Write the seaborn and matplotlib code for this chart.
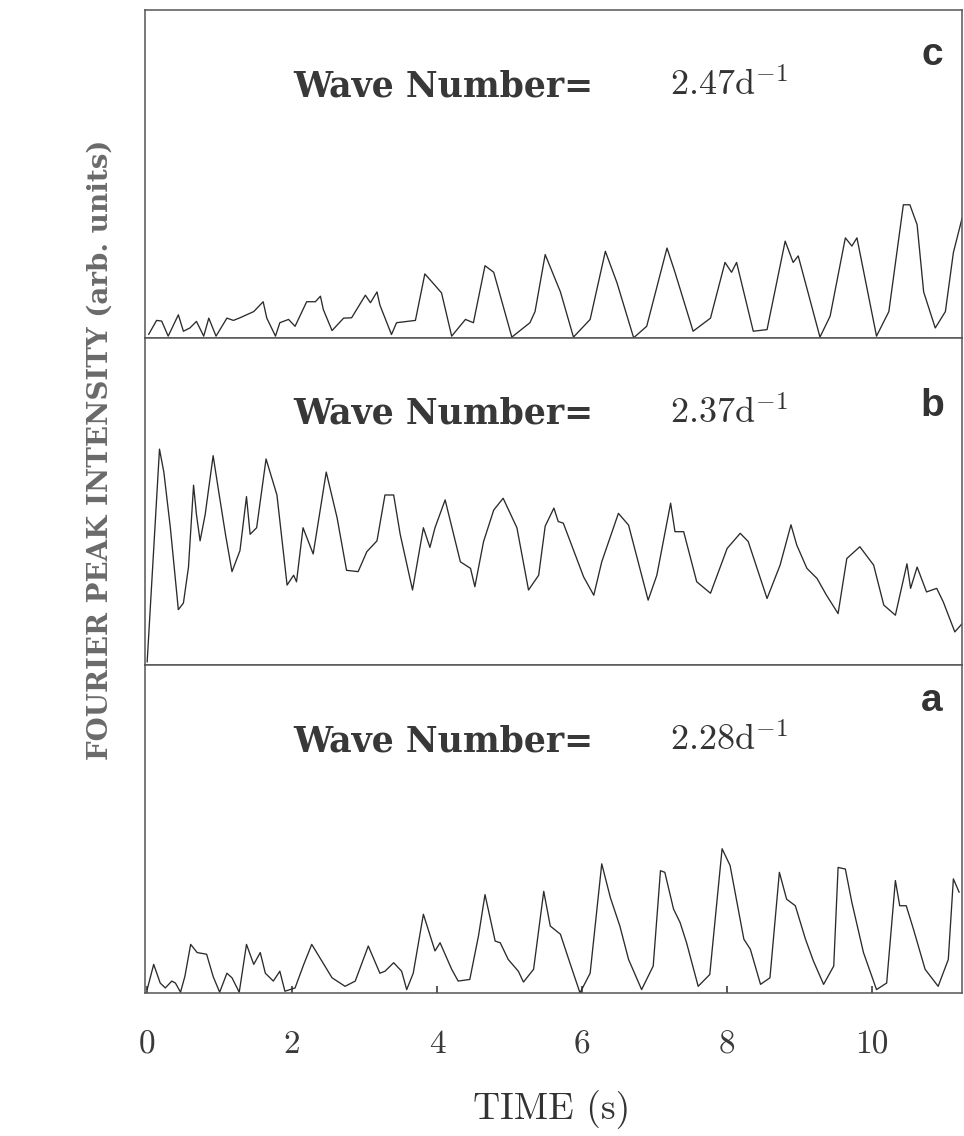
import matplotlib
matplotlib.use("Agg")
import matplotlib.pyplot as plt
import seaborn as sns
import pandas as pd

sns.set_theme(style="white")
plt.rcParams['mathtext.fontset'] = 'cm'
plt.rcParams['axes.unicode_minus'] = False

# time axis (s) and Fourier peak intensity (arb. units, % of panel height)
time_c = [0.02, 0.13, 0.20, 0.29, 0.43, 0.50, 0.59, 0.68, 0.78, 0.85, 0.95, 1.10, 1.19, 1.28,
          1.47, 1.60, 1.65, 1.77, 1.83, 1.95, 2.04, 2.20, 2.32, 2.39, 2.43, 2.55, 2.71, 2.82,
          3.01, 3.08, 3.17, 3.21, 3.37, 3.44, 3.70, 3.83, 3.97, 4.06, 4.20, 4.39, 4.50, 4.66,
          4.78, 5.03, 5.28, 5.35, 5.49, 5.70, 5.88, 6.11, 6.32, 6.48, 6.71, 6.89, 7.17, 7.28,
          7.53, 7.77, 7.97, 8.06, 8.13, 8.36, 8.55, 8.80, 8.91, 8.98, 9.28, 9.42, 9.63, 9.72,
          9.79, 10.06, 10.23, 10.43, 10.52, 10.62, 10.71, 10.87, 11.01, 11.12, 11.24]
peak_c = [1, 5.3, 5.1, 0.5, 7, 2, 3, 5, 0.5, 6, 0.5, 6, 5.3, 6.1,
          8, 11, 6, 0.5, 4.6, 5.6, 3.5, 11, 11, 12.7, 8.6, 2.2, 6, 6.1,
          13, 10.7, 14, 10, 1, 4.6, 5.3, 19.5, 16, 13.7, 0.5, 5.6, 4.6, 22,
          20, 0.2, 4.6, 8, 25.4, 14, 0.2, 5.6, 26.4, 16.8, 0, 3.5, 27.4, 20,
          2, 6, 23, 20, 23, 2, 2.5, 29.5, 23, 25, 0.2, 6.6, 30.5, 28,
          30.5, 0.5, 8, 40.6, 40.6, 34.5, 14, 3, 8, 26, 36.5]

time_b = [0.0, 0.17, 0.23, 0.32, 0.43, 0.50, 0.57, 0.64, 0.68, 0.73, 0.80, 0.91, 0.98, 1.08,
          1.17, 1.28, 1.37, 1.42, 1.51, 1.64, 1.79, 1.93, 2.02, 2.06, 2.15, 2.29, 2.47, 2.62,
          2.75, 2.91, 3.03, 3.17, 3.28, 3.40, 3.49, 3.66, 3.81, 3.90, 3.97, 4.11, 4.32, 4.46,
          4.52, 4.64, 4.78, 4.91, 5.10, 5.26, 5.40, 5.49, 5.61, 5.67, 5.74, 6.02, 6.16, 6.27,
          6.50, 6.64, 6.91, 7.03, 7.22, 7.28, 7.40, 7.58, 7.77, 8.00, 8.18, 8.29, 8.55, 8.73,
          8.88, 8.96, 9.10, 9.24, 9.37, 9.53, 9.65, 9.83, 10.02, 10.16, 10.32, 10.48, 10.53,
          10.62, 10.75, 10.89, 10.98, 11.14, 11.24]
peak_b = [1, 66, 59, 42, 17, 19, 30, 55, 46, 38, 46, 64, 54, 40,
          28.6, 35, 51.5, 40, 42, 63, 52, 24.5, 27.5, 25.5, 42, 34, 59, 45,
          29, 28.6, 34.7, 38, 52, 52, 40, 23, 42, 36, 42, 50.5, 31.6, 29.6,
          24, 37.8, 47.4, 51, 42, 23, 27.5, 42.5, 48, 43.9, 43.4, 27, 21.4, 31.6,
          46.4, 42.8, 19.9, 27.5, 49.5, 40.8, 40.8, 25.5, 22, 35.7, 40.3, 37.8, 20.4, 30.6,
          42.9, 36.7, 29.6, 26.5, 21.4, 15.8, 32.6, 36.2, 30.6, 18.4, 15.3, 31, 23.5,
          30, 22.4, 23.5, 19.4, 10.2, 12.7]

time_a = [0.0, 0.09, 0.18, 0.25, 0.34, 0.39, 0.46, 0.52, 0.60, 0.69, 0.82, 0.91, 1.00, 1.10,
          1.17, 1.27, 1.37, 1.47, 1.56, 1.63, 1.74, 1.83, 1.90, 2.04, 2.16, 2.27, 2.41, 2.55,
          2.73, 2.87, 3.05, 3.21, 3.28, 3.40, 3.51, 3.58, 3.67, 3.81, 3.97, 4.04, 4.20, 4.29,
          4.45, 4.57, 4.66, 4.80, 4.87, 4.98, 5.12, 5.19, 5.33, 5.47, 5.56, 5.70, 5.83, 5.97,
          6.11, 6.27, 6.39, 6.52, 6.64, 6.82, 6.98, 7.08, 7.14, 7.26, 7.35, 7.44, 7.60, 7.76,
          7.93, 8.04, 8.23, 8.32, 8.46, 8.59, 8.72, 8.82, 8.94, 9.08, 9.19, 9.33, 9.47, 9.53,
          9.63, 9.72, 9.88, 10.06, 10.20, 10.32, 10.38, 10.47, 10.57, 10.73, 10.91, 11.05,
          11.12, 11.20]
peak_a = [1, 8.7, 3, 1.5, 3.6, 3, 0.2, 5, 14.8, 12.3, 11.8, 5, 0.2, 6,
          4.6, 0.2, 14.8, 8.7, 12.3, 6, 3.6, 6.6, 0.5, 1.5, 8.7, 14.8, 9.7, 4.6,
          2, 3.6, 14.3, 6, 6.6, 9.2, 6.6, 1, 6, 24, 12.8, 15.3, 7.2, 3.6,
          4.1, 17.4, 30, 15.8, 15.3, 10.2, 6.6, 3.3, 7.2, 31, 20.4, 17.9, 9.2, 0,
          6, 39.4, 29, 20.4, 10.2, 1, 8.2, 37.3, 36.8, 25.6, 21.5, 15.3, 2, 5.6,
          44, 38.9, 16.4, 13.3, 2.6, 4.6, 36.8, 28.6, 26.6, 16.4, 9.7, 2.6, 8.2, 38.3,
          37.8, 27.6, 12.3, 1, 3, 34.3, 26.6, 26.6, 19.4, 7.2, 2, 10.2,
          34.8, 30.7]

panel_letters = ['c', 'b', 'a']
wave_numbers = ['2.47', '2.37', '2.28']
x_ticks = [0, 2, 4, 6, 8, 10]

panels = [
    pd.DataFrame({'time': time_c, 'intensity': peak_c}),
    pd.DataFrame({'time': time_b, 'intensity': peak_b}),
    pd.DataFrame({'time': time_a, 'intensity': peak_a}),
]
letter_y = [0.833, 0.761, 0.862]

fig, axes = plt.subplots(3, 1, figsize=(9.64, 11.36), dpi=100, sharex=True)
fig.subplots_adjust(left=0.1504, right=0.998, top=0.991, bottom=0.126, hspace=0)

for ax, df, letter, wn, ly in zip(axes, panels, panel_letters, wave_numbers, letter_y):
    sns.lineplot(data=df, x='time', y='intensity', ax=ax, color='#2b2b2b',
                 linewidth=0.95, estimator=None, sort=False)
    ax.set_xlim(-0.03, 11.24)
    ax.set_ylim(0, 100)
    ax.set_yticks([])
    ax.set_xlabel('')
    ax.set_ylabel('')
    for s in ax.spines.values():
        s.set_color('#555555')
        s.set_linewidth(1.1)
    ax.text(0.181, 0.738, 'Wave Number=', transform=ax.transAxes, family='DejaVu Serif',
            fontweight='bold', fontsize=25, color='#383838', va='baseline', ha='left')
    ax.text(0.643, 0.738, wn + r'd$^{-1}$', transform=ax.transAxes, family='cmr10',
            fontsize=26, color='#333333', va='baseline', ha='left')
    ax.text(0.963, ly, letter, transform=ax.transAxes, family='Liberation Sans',
            fontweight='bold', fontsize=28, color='#333333', va='baseline', ha='center')
    ax.tick_params(axis='x', bottom=False, labelbottom=False)

axes[2].set_xticks(x_ticks)
axes[2].tick_params(axis='x', bottom=True, labelbottom=True, direction='in', length=5,
                    color='#444444', pad=27, labelsize=24, labelcolor='#3a3a3a')
for lab in axes[2].get_xticklabels():
    lab.set_family('cmr10')

fig.text(0.572, 0.023, 'TIME (s)', family='cmr10', fontsize=27, color='#333333',
         ha='center', va='center')
fig.text(0.104, 0.604, 'FOURIER PEAK INTENSITY (arb. units)', family='DejaVu Serif',
         fontweight='bold', fontsize=20, color='#6a6a6a', rotation=90,
         ha='center', va='center')

plt.savefig('out.png', dpi=100)
plt.close()
